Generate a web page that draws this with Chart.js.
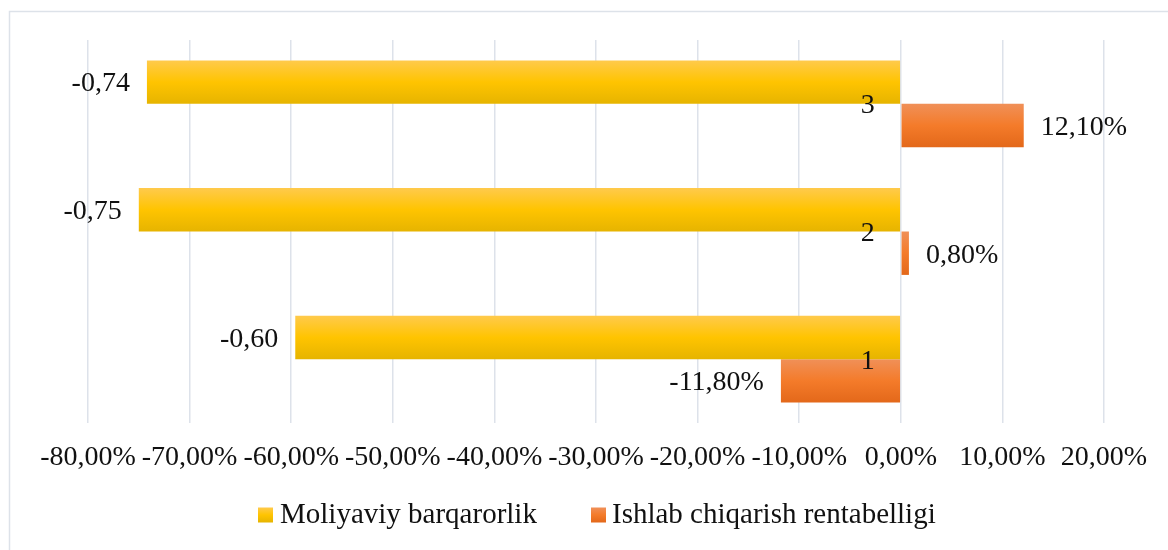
<!DOCTYPE html>
<html>
<head>
<meta charset="utf-8">
<script src="https://cdn.jsdelivr.net/npm/chart.js@4.4.1/dist/chart.umd.min.js"></script>
<style>
  html, body { margin: 0; padding: 0; background: #ffffff; }
  #wrap { position: relative; width: 1168px; height: 550px; }
</style>
</head>
<body>
<div id="wrap"><canvas id="c" width="1168" height="550"></canvas></div>
<script>
// ---- data ----
const categories = ['3', '2', '1'];
const seriesNames = ['Moliyaviy barqarorlik', 'Ishlab chiqarish rentabelligi'];
const moliyaviyBarqarorlik = [-0.742, -0.75, -0.596];
const ishlabChiqarishRentabelligi = [0.121, 0.008, -0.118];
const xTickMin = -0.8;
const xTickMax = 0.2;
const xTickStep = 0.1;

const FONT = '"Liberation Serif", "Times New Roman", serif';
const TEXT = '#111111';
const YELLOW_STOPS = [[0, '#FFCA4C'], [0.5, '#FFC400'], [1, '#E6B400']];
const ORANGE_STOPS = [[0, '#F09058'], [0.5, '#F47B2A'], [1, '#E3681A']];

function pct(v) {
  if (Math.abs(v) < 1e-9) v = 0;
  return (v * 100).toFixed(2).replace('.', ',') + '%';
}
function num(v) {
  return v.toFixed(2).replace('.', ',');
}
function grad(c, top, bot, stops) {
  const g = c.createLinearGradient(0, top, 0, bot);
  stops.forEach(s => g.addColorStop(s[0], s[1]));
  return g;
}

function barGradient(stops, fallback) {
  return function (ctx) {
    const chart = ctx.chart;
    const meta = chart.getDatasetMeta(ctx.datasetIndex);
    const el = meta && meta.data ? meta.data[ctx.dataIndex] : null;
    if (!el || !isFinite(el.y) || !isFinite(el.height) || el.height <= 0) return fallback;
    return grad(chart.ctx, el.y - el.height / 2, el.y + el.height / 2, stops);
  };
}

const frame = {
  id: 'frame',
  beforeDraw(chart) {
    const c = chart.ctx;
    c.save();
    c.strokeStyle = '#dde2e9';
    c.lineWidth = 1.5;
    c.beginPath();
    c.moveTo(9.5, chart.height);
    c.lineTo(9.5, 11.5);
    c.lineTo(chart.width, 11.5);
    c.stroke();
    c.restore();
  }
};

const labelsPlugin = {
  id: 'valueLabels',
  afterDatasetsDraw(chart) {
    const c = chart.ctx;
    const xs = chart.scales.x, ys = chart.scales.y;
    c.save();
    c.font = '28px ' + FONT;
    c.fillStyle = TEXT;
    c.textBaseline = 'middle';
    // category labels next to the zero line
    const zx = xs.getPixelForValue(0);
    c.textAlign = 'right';
    categories.forEach((cat, i) => {
      c.fillText(cat, zx - 26, ys.getPixelForValue(i) + 2);
    });
    // value labels
    chart.data.datasets.forEach((ds, di) => {
      const meta = chart.getDatasetMeta(di);
      meta.data.forEach((el, i) => {
        const v = ds.data[i];
        const txt = di === 0 ? num(v) : pct(v);
        if (v < 0) { c.textAlign = 'right'; c.fillText(txt, el.x - 17, el.y + 2); }
        else { c.textAlign = 'left'; c.fillText(txt, el.x + 17, el.y + 2); }
      });
    });
    c.restore();
  }
};

// legend drawn under the axis, Excel style
const legendPlugin = {
  id: 'bottomLegend',
  afterDraw(chart) {
    const c = chart.ctx;
    const items = [
      { text: seriesNames[0], stops: YELLOW_STOPS, boxX: 258, textX: 280 },
      { text: seriesNames[1], stops: ORANGE_STOPS, boxX: 591, textX: 612 }
    ];
    const cy = 515, box = 15;
    c.save();
    c.font = '29px ' + FONT;
    c.fillStyle = TEXT;
    c.textBaseline = 'middle';
    c.textAlign = 'left';
    items.forEach(it => {
      c.fillStyle = grad(c, cy - box / 2, cy + box / 2, it.stops);
      c.fillRect(it.boxX, cy - box / 2, box, box);
      c.fillStyle = TEXT;
      c.fillText(it.text, it.textX, cy);
    });
    c.restore();
  }
};

const chart = new Chart(document.getElementById('c'), {
  type: 'bar',
  data: {
    labels: categories,
    datasets: [
      {
        label: seriesNames[0],
        data: moliyaviyBarqarorlik,
        backgroundColor: barGradient(YELLOW_STOPS, '#FFC400'),
        borderWidth: 0,
        categoryPercentage: 0.68,
        barPercentage: 1.0
      },
      {
        label: seriesNames[1],
        data: ishlabChiqarishRentabelligi,
        backgroundColor: barGradient(ORANGE_STOPS, '#F07A2A'),
        borderWidth: 0,
        categoryPercentage: 0.68,
        barPercentage: 1.0
      }
    ]
  },
  options: {
    indexAxis: 'y',
    responsive: false,
    animation: false,
    layout: { padding: { left: 88, right: 64, top: 40, bottom: 73 } },
    scales: {
      x: {
        min: xTickMin,
        max: xTickMax,
        grid: { color: '#dde2ea', lineWidth: 1.5, drawTicks: false },
        border: { display: false },
        afterFit: (s) => { s.height = 54; },
        ticks: {
          stepSize: xTickStep,
          autoSkip: false,
          maxRotation: 0,
          padding: 18,
          color: TEXT,
          font: { family: FONT, size: 28 },
          callback: (v) => pct(v)
        }
      },
      y: {
        display: false,
        grid: { display: false }
      }
    },
    plugins: {
      legend: { display: false },
      tooltip: { enabled: false }
    }
  },
  plugins: [frame, labelsPlugin, legendPlugin]
});
chart.update('none');
</script>
</body>
</html>
